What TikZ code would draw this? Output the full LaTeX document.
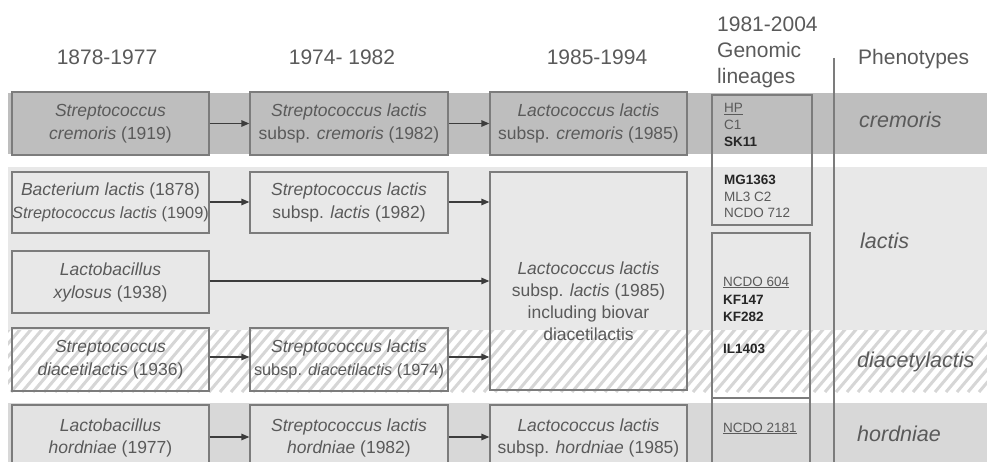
\documentclass[tikz,border=0pt]{standalone}
\usepackage{fontspec}
\setmainfont{Liberation Sans}
\usetikzlibrary{arrows.meta}
\definecolor{txt}{HTML}{5A5A5A}
\definecolor{dark}{HTML}{262626}
\definecolor{bord}{HTML}{7C7C7C}
\definecolor{arrc}{HTML}{3C3C3C}
\definecolor{bandA}{HTML}{BEBEBE}
\definecolor{bandB}{HTML}{E8E8E8}
\definecolor{bandD}{HTML}{D8D8D8}
\definecolor{boxD}{HTML}{E3E3E3}
\definecolor{hatchc}{HTML}{D6D6D6}
\begin{document}
\begin{tikzpicture}[x=1pt,y=-1pt,
  bx/.style={draw=bord, line width=1.3pt, inner sep=0pt, align=center, text=txt,
    font=\fontsize{17.5}{23}\selectfont},
  btxt/.style={inner sep=0pt, align=center, text=txt, font=\fontsize{17.5}{22}\selectfont},
  gbox/.style={draw=bord, line width=1.3pt, inner sep=0pt},
  hd/.style={font=\fontsize{21}{26}\selectfont, text=txt, inner sep=0pt},
  ph/.style={font=\fontsize{21.5}{26}\selectfont\itshape, text=txt, inner sep=0pt, anchor=base west},
  gt/.style={font=\fontsize{13.5}{17}\selectfont, text=txt, inner sep=0pt, anchor=base west},
  gb/.style={font=\fontsize{13.5}{17}\selectfont\bfseries, text=dark, inner sep=0pt, anchor=base west},
  arr/.style={draw=arrc, line width=1.3pt, -{Triangle[length=8pt,width=6.5pt]}},
  vline/.style={draw=bord, line width=1.2pt},
  hatchline/.style={draw=hatchc, line width=3pt}
  ]
\useasboundingbox (0,0) rectangle (987,462);
\clip (0,0) rectangle (987,462);
\fill[white] (0,0) rectangle (987,462);
% bands
\fill[bandA] (8,93) rectangle (987,154);
\fill[bandB] (8,167) rectangle (987,330);
\begin{scope}
  \clip (8,330) rectangle (987,392);
  \foreach \i in {-77,-66,...,1000} \draw[hatchline] (\i,392) -- ++(56,-66);
\end{scope}
\fill[bandD] (8,403) rectangle (987,462);

% headers
\node[hd, anchor=base] (h1) at (107,65) {1878-1977};
\node[hd, anchor=base] (h2) at (342,65) {1974- 1982};
\node[hd, anchor=base] (h3) at (597,65) {1985-1994};
\node[hd, anchor=base west] (h4a) at (717,32) {1981-2004};
\node[hd, anchor=base west] (h4b) at (717,58) {Genomic};
\node[hd, anchor=base west] (h4c) at (717,84) {lineages};
\node[hd, anchor=base west] (h5) at (858,65) {Phenotypes};

% row 1 cremoris
\node[bx, minimum width=197pt, minimum height=63pt] (a1) at (110.5,123.5)
  {{\itshape Streptococcus}\\{\itshape cremoris} (1919)};
\node[bx, minimum width=198pt, minimum height=63pt] (a2) at (349,123.5)
  {{\itshape Streptococcus lactis}\\subsp. {\itshape cremoris} (1982)};
\node[bx, minimum width=197pt, minimum height=63pt] (a3) at (588.5,123.5)
  {{\itshape Lactococcus lactis}\\subsp. {\itshape cremoris} (1985)};

% row 2 lactis
\node[bx, minimum width=197pt, minimum height=61pt] (b1) at (110.5,202.5)
  {{\itshape Bacterium lactis} (1878)\\{\fontsize{16.3}{23}\selectfont\itshape Streptococcus lactis \upshape(1909)}};
\node[bx, minimum width=198pt, minimum height=61pt] (b2) at (349,202.5)
  {{\itshape Streptococcus lactis}\\subsp. {\itshape lactis} (1982)};
\node[bx, minimum width=197pt, minimum height=218pt] (big) at (588.5,281) {};
\node[btxt] (bigtxt) at (588.5,301)
  {{\itshape Lactococcus lactis}\\subsp. {\itshape lactis} (1985)\\including biovar\\diacetilactis};

% row 3 xylosus
\node[bx, minimum width=197pt, minimum height=62pt] (c1) at (110.5,282)
  {{\itshape Lactobacillus}\\{\itshape xylosus} (1938)};

% row 4 diacetylactis
\node[bx, minimum width=197pt, minimum height=63pt] (d1) at (110.5,359.5)
  {{\itshape Streptococcus}\\{\itshape diacetilactis} (1936)};
\node[bx, minimum width=198pt, minimum height=63pt] (d2) at (349,359.5)
  {{\itshape Streptococcus lactis}\\{\fontsize{16.3}{23}\selectfont subsp. {\itshape diacetilactis} (1974)}};

% row 5 hordniae
\node[bx, fill=boxD, minimum width=197pt, minimum height=75pt] (e1) at (110.5,442.5)
  {};
\node[btxt] (e1t) at (110.5,438) {{\itshape Lactobacillus}\\{\itshape hordniae} (1977)};
\node[bx, fill=boxD, minimum width=198pt, minimum height=75pt] (e2) at (349,442.5)
  {};
\node[btxt] (e2t) at (349,438) {{\itshape Streptococcus lactis}\\{\itshape hordniae} (1982)};
\node[bx, fill=boxD, minimum width=197pt, minimum height=75pt] (e3) at (588.5,442.5)
  {};
\node[btxt] (e3t) at (588.5,438) {{\itshape Lactococcus lactis}\\subsp. {\itshape hordniae} (1985)};

% arrows
\draw[arr] (a1.east) -- (a2.west);
\draw[arr] (a2.east) -- (a3.west);
\coordinate (b1e) at (209,202);
\draw[arr] (b1.east |- b1e) -- (b2.west |- b1e);
\draw[arr] (b2.east |- b1e) -- (big.west |- b1e);
\coordinate (c1e) at (209,281);
\draw[arr] (c1.east |- c1e) -- (big.west |- c1e);
\coordinate (d1e) at (209,357);
\draw[arr] (d1.east |- d1e) -- (d2.west |- d1e);
\draw[arr] (d2.east |- d1e) -- (big.west |- d1e);
\coordinate (e1e) at (209,437);
\draw[arr] (e1.east |- e1e) -- (e2.west |- e1e);
\draw[arr] (e2.east |- e1e) -- (e3.west |- e1e);

% genomic lineage boxes
\node[gbox, minimum width=100pt, minimum height=130pt] (gA) at (762,160) {};
\node[gbox, minimum width=98pt, minimum height=165pt] (gB) at (761,315.5) {};
\node[gbox, minimum width=98pt, minimum height=82pt] (gC) at (761,439) {};

\node[gt] (s1) at (724,113) {\underline{HP}};
\node[gt] (s2) at (724,130) {C1};
\node[gb] (s3) at (724,147) {SK11};
\node[gb] (s4) at (724,185) {MG1363};
\node[gt] (s5) at (724,202) {ML3 C2};
\node[gt] (s6) at (724,218) {NCDO 712};
\node[gt] (s7) at (723,286) {\underline{NCDO 604}};
\node[gb] (s8) at (723,304) {KF147};
\node[gb] (s9) at (723,321) {KF282};
\node[gb] (s10) at (723,353) {IL1403};
\node[gt] (s11) at (723,432) {\underline{NCDO 2181}};

% vertical separator
\coordinate (vt) at (834,58);
\coordinate (vb) at (834,462);
\draw[vline] (vt) -- (vb);

% phenotypes
\node[ph] (p1) at (859,128) {cremoris};
\node[ph] (p2) at (860,248) {lactis};
\node[ph] (p3) at (857,367) {diacetylactis};
\node[ph] (p4) at (857,441) {hordniae};
\end{tikzpicture}
\end{document}
